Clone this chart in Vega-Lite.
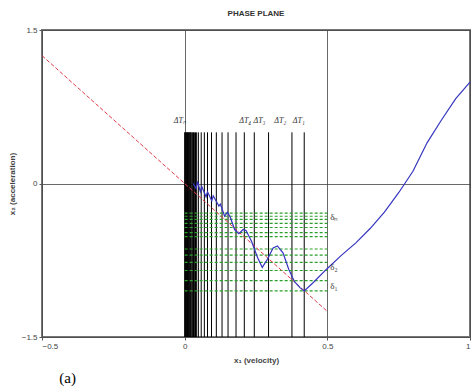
{
  "$schema": "https://vega.github.io/schema/vega-lite/v6.json",
  "autosize": {"type": "none"},
  "padding": {"left": 42, "top": 30, "right": 1, "bottom": 52},
  "width": 428,
  "height": 307,
  "background": "white",
  "title": {"text": "PHASE PLANE", "fontSize": 8, "font": "Liberation Sans", "fontWeight": "bold", "color": "#333", "offset": 8},
  "config": {
    "view": {"stroke": "#777", "strokeWidth": 2},
    "axis": {"labelFont": "Liberation Sans", "labelFontSize": 8, "labelColor": "#444", "titleFont": "Liberation Sans", "titleFontSize": 8, "titleFontWeight": "bold", "titleColor": "#444", "gridColor": "#444", "gridOpacity": 0.8, "gridWidth": 1, "domain": false, "tickColor": "#555", "tickSize": 3, "format": "~g"}
  },
  "datasets": {
    "vlines": [
      {"x": 0}, {"x": 0.002}, {"x": 0.004}, {"x": 0.006}, {"x": 0.008}, {"x": 0.010}, {"x": 0.012}, {"x": 0.014}, {"x": 0.016}, {"x": 0.018}, {"x": 0.020}, {"x": 0.022}, {"x": 0.025}, {"x": 0.028}, {"x": 0.031}, {"x": 0.034}, {"x": 0.038}, {"x": 0.042}, {"x": 0.048}, {"x": 0.058}, {"x": 0.069}, {"x": 0.080}, {"x": 0.094}, {"x": 0.111}, {"x": 0.131}, {"x": 0.152}, {"x": 0.180}, {"x": 0.209}, {"x": 0.244}, {"x": 0.294}, {"x": 0.376}, {"x": 0.419}
    ],
    "hlines": [
      {"y": -0.29}, {"y": -0.32}, {"y": -0.35}, {"y": -0.39}, {"y": -0.43}, {"y": -0.48}, {"y": -0.52}, {"y": -0.64}, {"y": -0.70}, {"y": -0.77}, {"y": -0.85}, {"y": -0.95}, {"y": -1.05}
    ],
    "red": [{"x": -0.5, "y": 1.25}, {"x": 0.5, "y": -1.25}],
    "blue": [
      {"i": 1, "x": 0.03, "y": 0.0}, {"i": 2, "x": 0.04, "y": -0.05}, {"i": 3, "x": 0.045, "y": 0.02}, {"i": 4, "x": 0.055, "y": -0.08}, {"i": 5, "x": 0.06, "y": -0.03}, {"i": 6, "x": 0.075, "y": -0.13}, {"i": 7, "x": 0.08, "y": -0.08}, {"i": 8, "x": 0.095, "y": -0.17}, {"i": 9, "x": 0.10, "y": -0.12}, {"i": 10, "x": 0.12, "y": -0.22}, {"i": 11, "x": 0.125, "y": -0.2}, {"i": 12, "x": 0.14, "y": -0.32}, {"i": 13, "x": 0.15, "y": -0.28}, {"i": 14, "x": 0.16, "y": -0.33}, {"i": 15, "x": 0.175, "y": -0.45}, {"i": 16, "x": 0.19, "y": -0.49}, {"i": 17, "x": 0.205, "y": -0.45}, {"i": 18, "x": 0.215, "y": -0.46}, {"i": 19, "x": 0.235, "y": -0.57}, {"i": 20, "x": 0.255, "y": -0.72}, {"i": 21, "x": 0.272, "y": -0.82}, {"i": 22, "x": 0.29, "y": -0.74}, {"i": 23, "x": 0.31, "y": -0.63}, {"i": 24, "x": 0.325, "y": -0.61}, {"i": 25, "x": 0.345, "y": -0.68}, {"i": 26, "x": 0.365, "y": -0.84}, {"i": 27, "x": 0.385, "y": -0.96}, {"i": 28, "x": 0.405, "y": -1.02}, {"i": 29, "x": 0.419, "y": -1.05}, {"i": 30, "x": 0.45, "y": -0.97}, {"i": 31, "x": 0.5, "y": -0.83}, {"i": 32, "x": 0.55, "y": -0.7}, {"i": 33, "x": 0.6, "y": -0.58}, {"i": 34, "x": 0.65, "y": -0.44}, {"i": 35, "x": 0.7, "y": -0.28}, {"i": 36, "x": 0.75, "y": -0.09}, {"i": 37, "x": 0.8, "y": 0.12}, {"i": 38, "x": 0.85, "y": 0.4}, {"i": 39, "x": 0.9, "y": 0.62}, {"i": 40, "x": 0.95, "y": 0.83}, {"i": 41, "x": 1.0, "y": 0.99}
    ],
    "tlabels": [
      {"x": -0.017, "y": 0.59, "t": "ΔTₙ"},
      {"x": 0.212, "y": 0.59, "t": "ΔT₄"},
      {"x": 0.262, "y": 0.59, "t": "ΔT₃"},
      {"x": 0.335, "y": 0.59, "t": "ΔT₂"},
      {"x": 0.40, "y": 0.59, "t": "ΔT₁"}
    ],
    "dlabels": [
      {"x": 0.51, "y": -0.33, "t": "δₙ"},
      {"x": 0.51, "y": -0.82, "t": "δ₂"},
      {"x": 0.51, "y": -1.0, "t": "δ₁"}
    ],
    "caption": [{"x": -0.41, "y": -1.9, "t": "(a)"}]
  },
  "layer": [
    {
      "data": {"name": "vlines"},
      "mark": {"type": "rule", "color": "black", "strokeWidth": 1},
      "encoding": {
        "x": {"field": "x", "type": "quantitative", "scale": {"domain": [-0.5, 1], "nice": false, "zero": false},
          "axis": {"values": [-0.5, 0, 0.5, 1], "grid": true, "title": "x₁ (velocity)", "titlePadding": 6, "labelPadding": 2}},
        "y": {"datum": 0.5, "type": "quantitative", "scale": {"domain": [-1.5, 1.5], "nice": false, "zero": false},
          "axis": {"values": [-1.5, 0, 1.5], "grid": true, "title": "x₂ (acceleration)", "titlePadding": 5, "labelPadding": 2}},
        "y2": {"datum": -1.5}
      }
    },
    {
      "data": {"name": "hlines"},
      "mark": {"type": "rule", "color": "#2aa02a", "strokeWidth": 1.2, "strokeDash": [3, 2]},
      "encoding": {
        "y": {"field": "y", "type": "quantitative"},
        "x": {"datum": 0, "type": "quantitative"},
        "x2": {"datum": 0.5}
      }
    },
    {
      "data": {"name": "red"},
      "mark": {"type": "line", "color": "#e03a4a", "strokeWidth": 1, "strokeDash": [4, 2]},
      "encoding": {
        "x": {"field": "x", "type": "quantitative"},
        "y": {"field": "y", "type": "quantitative"}
      }
    },
    {
      "data": {"name": "blue"},
      "mark": {"type": "line", "color": "#3535c0", "strokeWidth": 1.2},
      "encoding": {
        "x": {"field": "x", "type": "quantitative"},
        "y": {"field": "y", "type": "quantitative"},
        "order": {"field": "i", "type": "quantitative"}
      }
    },
    {
      "data": {"name": "tlabels"},
      "mark": {"type": "text", "font": "Liberation Serif", "fontSize": 8, "fontStyle": "italic", "color": "#333", "baseline": "alphabetic", "align": "center"},
      "encoding": {
        "x": {"field": "x", "type": "quantitative"},
        "y": {"field": "y", "type": "quantitative"},
        "text": {"field": "t"}
      }
    },
    {
      "data": {"name": "dlabels"},
      "mark": {"type": "text", "font": "Liberation Serif", "fontSize": 9, "color": "#333", "baseline": "middle", "align": "left"},
      "encoding": {
        "x": {"field": "x", "type": "quantitative"},
        "y": {"field": "y", "type": "quantitative"},
        "text": {"field": "t"}
      }
    },
    {
      "data": {"name": "caption"},
      "mark": {"type": "text", "font": "Liberation Serif", "fontSize": 15, "color": "black", "baseline": "middle", "align": "center"},
      "encoding": {
        "x": {"field": "x", "type": "quantitative"},
        "y": {"field": "y", "type": "quantitative"},
        "text": {"field": "t"}
      }
    }
  ]
}
